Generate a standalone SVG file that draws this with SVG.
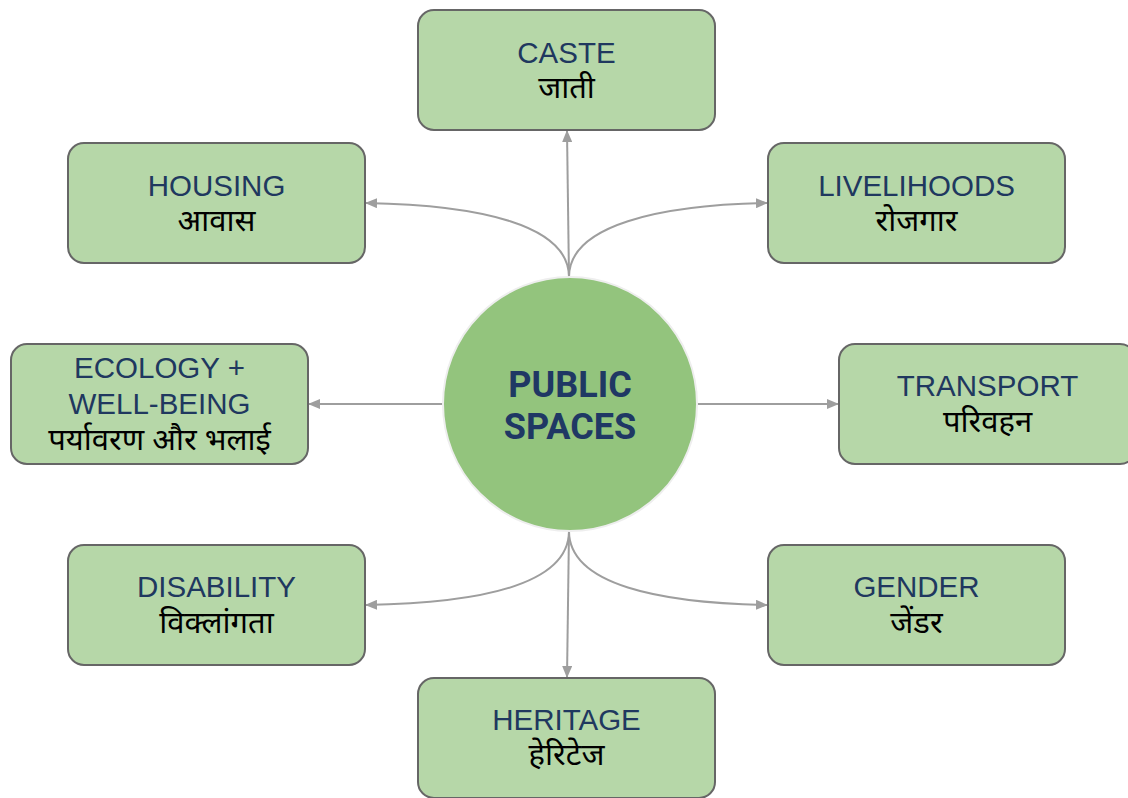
<svg xmlns="http://www.w3.org/2000/svg" width="1128" height="798" viewBox="0 0 1128 798">
<defs>
<marker id="arr" markerUnits="userSpaceOnUse" markerWidth="12" markerHeight="10" refX="11" refY="5" orient="auto">
<path d="M0,0 L12,5 L0,10 Z" fill="#9e9e9e"/>
</marker>
<style>
.box{fill:#b6d7a8;stroke:#666666;stroke-width:2}
.en{font-family:"Liberation Sans",Arial,sans-serif;font-size:29.5px;fill:#20385f;text-anchor:middle}
.hi{font-family:"Noto Sans Devanagari","Lohit Devanagari","Noto Sans","FreeSans",sans-serif;font-size:31px;font-weight:400;fill:#000000;text-anchor:middle}
.c{fill:none;stroke:#9e9e9e;stroke-width:2;marker-end:url(#arr)}
.ttl{font-family:Roboto,"Liberation Sans",sans-serif;font-weight:bold;font-size:36px;fill:#1f3864;text-anchor:middle}
</style>
</defs>
<rect width="1128" height="798" fill="#ffffff"/>
<g id="connectors">
<path class="c" d="M569,277 L567,131"/>
<path class="c" d="M569,277 C569,225 480,205 366,203"/>
<path class="c" d="M569,277 C569,225 660,205 767,203"/>
<path class="c" d="M443,404 L309,404"/>
<path class="c" d="M697,404 L838,404"/>
<path class="c" d="M569,531 L567,677"/>
<path class="c" d="M569,531 C569,585 480,603 366,605"/>
<path class="c" d="M569,531 C569,585 660,603 767,605"/>
</g>
<g id="center">
<circle cx="570" cy="404" r="127" fill="#93c47d" stroke="#eeeeee" stroke-width="2"/>
<text class="ttl" x="570" y="397">PUBLIC</text>
<text class="ttl" x="570" y="439">SPACES</text>
</g>
<g id="caste">
<rect class="box" x="418" y="10" width="297" height="120" rx="16"/>
<text class="en" x="566.5" y="63">CASTE</text>
<text class="hi" x="566.5" y="98">जाती</text>
</g>
<g id="housing">
<rect class="box" x="68" y="143" width="297" height="120" rx="16"/>
<text class="en" x="216.5" y="196">HOUSING</text>
<text class="hi" x="216.5" y="231">आवास</text>
</g>
<g id="livelihoods">
<rect class="box" x="768" y="143" width="297" height="120" rx="16"/>
<text class="en" x="916.5" y="196">LIVELIHOODS</text>
<text class="hi" x="916.5" y="231">रोजगार</text>
</g>
<g id="ecology">
<rect class="box" x="11" y="344" width="297" height="120" rx="16"/>
<text class="en" x="159.5" y="378">ECOLOGY +</text>
<text class="en" x="159.5" y="414">WELL-BEING</text>
<text class="hi" x="159.5" y="450">पर्यावरण और भलाई</text>
</g>
<g id="transport">
<rect class="box" x="839" y="344" width="297" height="120" rx="16"/>
<text class="en" x="987.5" y="396">TRANSPORT</text>
<text class="hi" x="987.5" y="432">परिवहन</text>
</g>
<g id="disability">
<rect class="box" x="68" y="545" width="297" height="120" rx="16"/>
<text class="en" x="216.5" y="597">DISABILITY</text>
<text class="hi" x="216.5" y="633">विक्लांगता</text>
</g>
<g id="gender">
<rect class="box" x="768" y="545" width="297" height="120" rx="16"/>
<text class="en" x="916.5" y="597">GENDER</text>
<text class="hi" x="916.5" y="633">जेंडर</text>
</g>
<g id="heritage">
<rect class="box" x="418" y="678" width="297" height="120" rx="16"/>
<text class="en" x="566.5" y="730">HERITAGE</text>
<text class="hi" x="566.5" y="765">हेरिटेज</text>
</g>
</svg>
